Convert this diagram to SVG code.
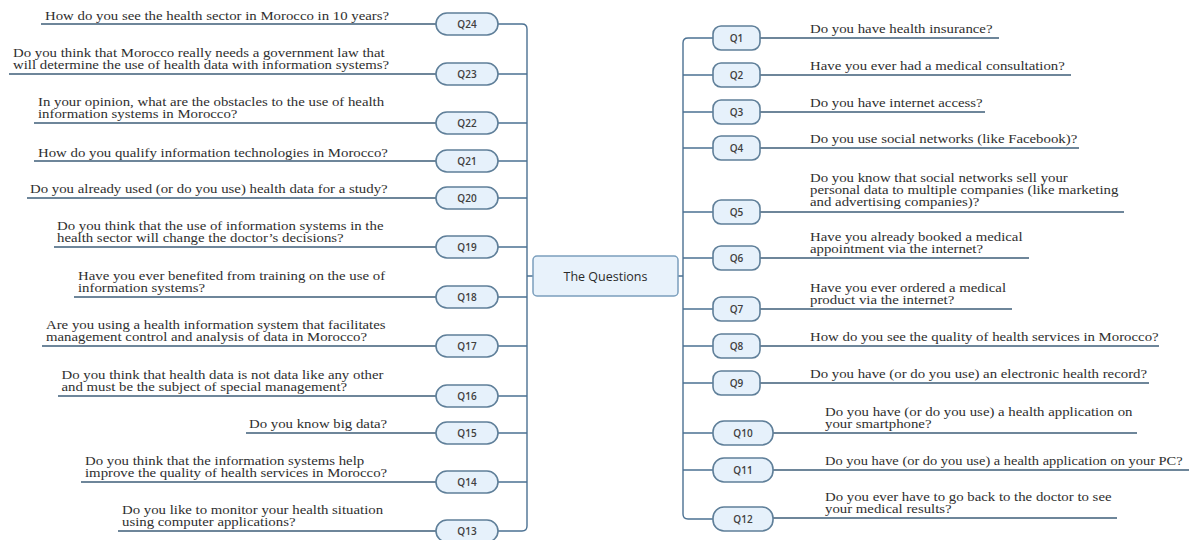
<svg xmlns="http://www.w3.org/2000/svg" width="1189" height="540" viewBox="0 0 1189 540">
<style>
.q{font-family:"Liberation Serif","Times New Roman",serif;font-size:12px;fill:#2e2e2e}
.pl{fill:#e6f1fb;stroke:#5f7f99;stroke-width:1.6}
.lb{font-family:"Open Sans","Noto Sans",sans-serif;font-size:10px;font-weight:600;fill:#404040;text-anchor:middle}
.cn{fill:none;stroke:#4b7192;stroke-width:1.4}
.ul{fill:none;stroke:#3f5f7a;stroke-width:1.4}
</style>
<rect width="1189" height="540" fill="#ffffff"/>
<g id="connectors">
<path class="cn" d="M498,24 H522 Q527,24 527,29 V526 Q527,531 522,531 H498"/>
<path class="cn" d="M498,74 H527 M498,123 H527 M498,161 H527 M498,198 H527 M498,247 H527 M498,297 H527 M498,346 H527 M498,396 H527 M498,433 H527 M498,482 H527 M527,276 H533"/>
<path class="cn" d="M713,38 H688 Q683,38 683,43 V514 Q683,519 688,519 H713"/>
<path class="cn" d="M683,75 H713 M683,112 H713 M683,148 H713 M683,212 H713 M683,258 H713 M683,309 H713 M683,346 H713 M683,383 H713 M683,433 H713 M683,470 H713 M678,276 H683"/>
<path class="ul" d="M436,24 H41 M436,74 H9 M436,123 H34 M436,161 H34 M436,198 H27 M436,247 H54 M436,297 H74 M436,346 H42 M436,396 H58 M436,433 H246 M436,482 H81 M436,531 H118"/>
<path class="ul" d="M760,38 H999 M760,75 H1071 M760,112 H985 M760,148 H1079 M760,212 H1124 M760,258 H1029 M760,309 H1012 M760,346 H1159 M760,383 H1149 M773,433 H1137 M773,470 H1189 M773,518 H1117"/>
</g>
<g id="center">
<rect x="533" y="256" width="145" height="40" rx="4" fill="#e8f2fb" stroke="#7b9fbd" stroke-width="1.5"/>
<text x="605.5" y="281" font-family="'Open Sans','Noto Sans',sans-serif" font-size="12.5" fill="#2a2a2a" text-anchor="middle">The Questions</text>
</g>
<g id="q24"><rect class="pl" x="436" y="13" width="62" height="22" rx="11"/><text class="lb" x="467" y="28">Q24</text><g transform="translate(45,0) scale(1.235,1)"><text class="q" y="20">How do you see the health sector in Morocco in 10 years?</text></g></g>
<g id="q23"><rect class="pl" x="436" y="63" width="62" height="22" rx="11"/><text class="lb" x="467" y="78">Q23</text><g transform="translate(13,0) scale(1.235,1)"><text class="q" y="57">Do you think that Morocco really needs a government law that</text><text class="q" y="69">will determine the use of health data with information systems?</text></g></g>
<g id="q22"><rect class="pl" x="436" y="112" width="62" height="22" rx="11"/><text class="lb" x="467" y="127">Q22</text><g transform="translate(38,0) scale(1.235,1)"><text class="q" y="106">In your opinion, what are the obstacles to the use of health</text><text class="q" y="118">information systems in Morocco?</text></g></g>
<g id="q21"><rect class="pl" x="436" y="150" width="62" height="22" rx="11"/><text class="lb" x="467" y="165">Q21</text><g transform="translate(38,0) scale(1.235,1)"><text class="q" y="157">How do you qualify information technologies in Morocco?</text></g></g>
<g id="q20"><rect class="pl" x="436" y="187" width="62" height="22" rx="11"/><text class="lb" x="467" y="202">Q20</text><g transform="translate(30,0) scale(1.235,1)"><text class="q" y="193">Do you already used (or do you use) health data for a study?</text></g></g>
<g id="q19"><rect class="pl" x="436" y="236" width="62" height="22" rx="11"/><text class="lb" x="467" y="251">Q19</text><g transform="translate(57,0) scale(1.235,1)"><text class="q" y="230">Do you think that the use of information systems in the</text><text class="q" y="242">health sector will change the doctor’s decisions?</text></g></g>
<g id="q18"><rect class="pl" x="436" y="286" width="62" height="22" rx="11"/><text class="lb" x="467" y="301">Q18</text><g transform="translate(78,0) scale(1.235,1)"><text class="q" y="280">Have you ever benefited from training on the use of</text><text class="q" y="292">information systems?</text></g></g>
<g id="q17"><rect class="pl" x="436" y="335" width="62" height="22" rx="11"/><text class="lb" x="467" y="350">Q17</text><g transform="translate(46,0) scale(1.235,1)"><text class="q" y="329">Are you using a health information system that facilitates</text><text class="q" y="341">management control and analysis of data in Morocco?</text></g></g>
<g id="q16"><rect class="pl" x="436" y="385" width="62" height="22" rx="11"/><text class="lb" x="467" y="400">Q16</text><g transform="translate(61.5,0) scale(1.235,1)"><text class="q" y="379">Do you think that health data is not data like any other</text><text class="q" y="391">and must be the subject of special management?</text></g></g>
<g id="q15"><rect class="pl" x="436" y="422" width="62" height="22" rx="11"/><text class="lb" x="467" y="437">Q15</text><g transform="translate(249,0) scale(1.235,1)"><text class="q" y="428">Do you know big data?</text></g></g>
<g id="q14"><rect class="pl" x="436" y="471" width="62" height="22" rx="11"/><text class="lb" x="467" y="486">Q14</text><g transform="translate(85,0) scale(1.235,1)"><text class="q" y="465">Do you think that the information systems help</text><text class="q" y="477">improve the quality of health services in Morocco?</text></g></g>
<g id="q13"><rect class="pl" x="436" y="520" width="62" height="22" rx="11"/><text class="lb" x="467" y="535">Q13</text><g transform="translate(122,0) scale(1.235,1)"><text class="q" y="514">Do you like to monitor your health situation</text><text class="q" y="526">using computer applications?</text></g></g>
<g id="q1"><rect class="pl" x="713" y="26" width="47" height="24" rx="8"/><text class="lb" x="736.5" y="42">Q1</text><g transform="translate(810,0) scale(1.235,1)"><text class="q" y="33">Do you have health insurance?</text></g></g>
<g id="q2"><rect class="pl" x="713" y="63" width="47" height="24" rx="8"/><text class="lb" x="736.5" y="79">Q2</text><g transform="translate(810,0) scale(1.235,1)"><text class="q" y="70">Have you ever had a medical consultation?</text></g></g>
<g id="q3"><rect class="pl" x="713" y="100" width="47" height="24" rx="8"/><text class="lb" x="736.5" y="116">Q3</text><g transform="translate(810,0) scale(1.235,1)"><text class="q" y="107">Do you have internet access?</text></g></g>
<g id="q4"><rect class="pl" x="713" y="136" width="47" height="24" rx="8"/><text class="lb" x="736.5" y="152">Q4</text><g transform="translate(810,0) scale(1.235,1)"><text class="q" y="143">Do you use social networks (like Facebook)?</text></g></g>
<g id="q5"><rect class="pl" x="713" y="200" width="47" height="24" rx="8"/><text class="lb" x="736.5" y="216">Q5</text><g transform="translate(810,0) scale(1.235,1)"><text class="q" y="182">Do you know that social networks sell your</text><text class="q" y="194">personal data to multiple companies (like marketing</text><text class="q" y="206">and advertising companies)?</text></g></g>
<g id="q6"><rect class="pl" x="713" y="246" width="47" height="24" rx="8"/><text class="lb" x="736.5" y="262">Q6</text><g transform="translate(810,0) scale(1.235,1)"><text class="q" y="241">Have you already booked a medical</text><text class="q" y="253">appointment via the internet?</text></g></g>
<g id="q7"><rect class="pl" x="713" y="297" width="47" height="24" rx="8"/><text class="lb" x="736.5" y="313">Q7</text><g transform="translate(810,0) scale(1.235,1)"><text class="q" y="292">Have you ever ordered a medical</text><text class="q" y="304">product via the internet?</text></g></g>
<g id="q8"><rect class="pl" x="713" y="334" width="47" height="24" rx="8"/><text class="lb" x="736.5" y="350">Q8</text><g transform="translate(810,0) scale(1.235,1)"><text class="q" y="341">How do you see the quality of health services in Morocco?</text></g></g>
<g id="q9"><rect class="pl" x="713" y="371" width="47" height="24" rx="8"/><text class="lb" x="736.5" y="387">Q9</text><g transform="translate(810,0) scale(1.235,1)"><text class="q" y="378">Do you have (or do you use) an electronic health record?</text></g></g>
<g id="q10"><rect class="pl" x="713" y="421" width="60" height="24" rx="11"/><text class="lb" x="743" y="437">Q10</text><g transform="translate(825,0) scale(1.235,1)"><text class="q" y="416">Do you have (or do you use) a health application on</text><text class="q" y="428">your smartphone?</text></g></g>
<g id="q11"><rect class="pl" x="713" y="458" width="60" height="24" rx="11"/><text class="lb" x="743" y="474">Q11</text><g transform="translate(825,0) scale(1.205,1)"><text class="q" y="465">Do you have (or do you use) a health application on your PC?</text></g></g>
<g id="q12"><rect class="pl" x="713" y="507" width="60" height="24" rx="11"/><text class="lb" x="743" y="523">Q12</text><g transform="translate(825,0) scale(1.235,1)"><text class="q" y="501">Do you ever have to go back to the doctor to see</text><text class="q" y="513">your medical results?</text></g></g>
</svg>
